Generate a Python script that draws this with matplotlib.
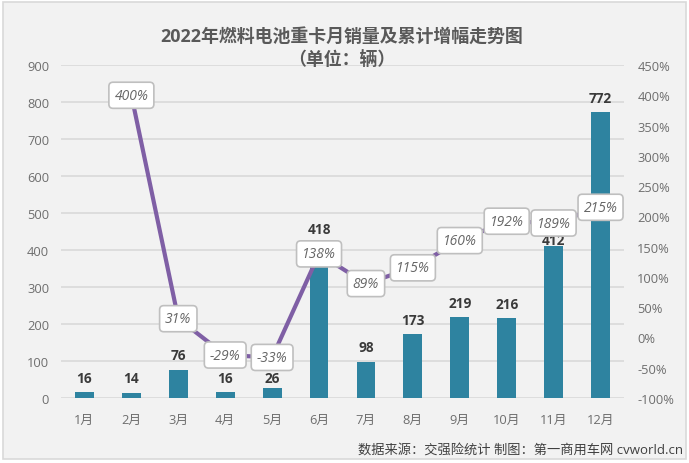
import matplotlib
matplotlib.use('Agg')
import matplotlib.pyplot as plt
from matplotlib.patches import Rectangle

months = ['1月', '2月', '3月', '4月', '5月', '6月', '7月', '8月', '9月', '10月', '11月', '12月']
sales = [16, 14, 76, 16, 26, 418, 98, 173, 219, 216, 412, 772]
# the growth line starts in February
growth_months = [1, 2, 3, 4, 5, 6, 7, 8, 9, 10, 11]
growth = [400, 31, -29, -33, 138, 89, 115, 160, 192, 189, 215]
left_ticks = [0, 100, 200, 300, 400, 500, 600, 700, 800, 900]
right_ticks = [-100, -50, 0, 50, 100, 150, 200, 250, 300, 350, 400, 450]

plt.rcParams['font.family'] = ['Open Sans', 'Noto Sans CJK SC', 'DejaVu Sans']

W, H = 689, 464
fig = plt.figure(figsize=(W / 100, H / 100), dpi=100, facecolor='white')
fig.add_artist(Rectangle((3 / W, 4 / H), (W - 6) / W, 457 / H, transform=fig.transFigure,
                         facecolor='#f2f2f2', edgecolor='#d9d9d9', linewidth=1.2, zorder=-1))

ax = fig.add_axes([61 / W, 1 - 399 / H, 563 / W, 333 / H])
ax.patch.set_visible(False)
ax.set_xlim(-0.5, 11.5)
ax.set_ylim(0, 900)
ax.set_yticks(left_ticks)
ax.set_xticks(range(12))
ax.set_xticklabels(months)
ax.grid(axis='y', color='#d9d9d9', linewidth=1.2)
ax.set_axisbelow(True)
ax.tick_params(length=0, labelsize=9.3, labelcolor='#6e6e6e')
ax.tick_params(axis='x', pad=11)
ax.tick_params(axis='y', pad=8.5)
for s in ax.spines.values():
    s.set_visible(False)

bars = ax.bar(range(12), sales, width=0.4, color='#2e83a0')
# labels of 5月 and 11月 sit closer to their bars so the growth boxes do not hide them
for i, (b, v) in enumerate(zip(bars, sales)):
    gap = {4: 10, 10: -4}.get(i, 20)
    ax.text(b.get_x() + b.get_width() / 2, v + gap, str(v), ha='center', va='bottom',
            fontsize=9.8, fontweight='bold', color='#3a3a3a')

ax2 = ax.twinx()
ax2.patch.set_visible(False)
ax2.set_xlim(-0.5, 11.5)
ax2.set_ylim(-100, 450)
ax2.set_yticks(right_ticks)
ax2.set_yticklabels([f'{t}%' for t in right_ticks])
ax2.tick_params(length=0, labelsize=9.3, labelcolor='#6e6e6e', pad=9.5)
for s in ax2.spines.values():
    s.set_visible(False)

ax2.plot(growth_months, growth, color='#7f5fa5', linewidth=3, solid_capstyle='round')
for x, g in zip(growth_months, growth):
    ax2.text(x, g, f'{g}%', ha='center', va='center', fontsize=10, style='italic', color='#666666',
             bbox=dict(boxstyle='round,pad=0.4,rounding_size=0.3', facecolor='white',
                       edgecolor='#bfbfbf', linewidth=1.2))

fig.text(342 / W, 1 - 37 / H, '2022年燃料电池重卡月销量及累计增幅走势图', ha='center', va='center',
         fontsize=12.9, fontweight='bold', color='#595959')
fig.text(342 / W, 1 - 60 / H, '（单位：辆）', ha='center', va='center',
         fontsize=12.9, fontweight='bold', color='#595959')
fig.text(683 / W, 1 - 451 / H, '数据来源：交强险统计 制图：第一商用车网 cvworld.cn', ha='right', va='center',
         fontsize=9.55, color='#404040')

fig.savefig('out.png', dpi=100)
